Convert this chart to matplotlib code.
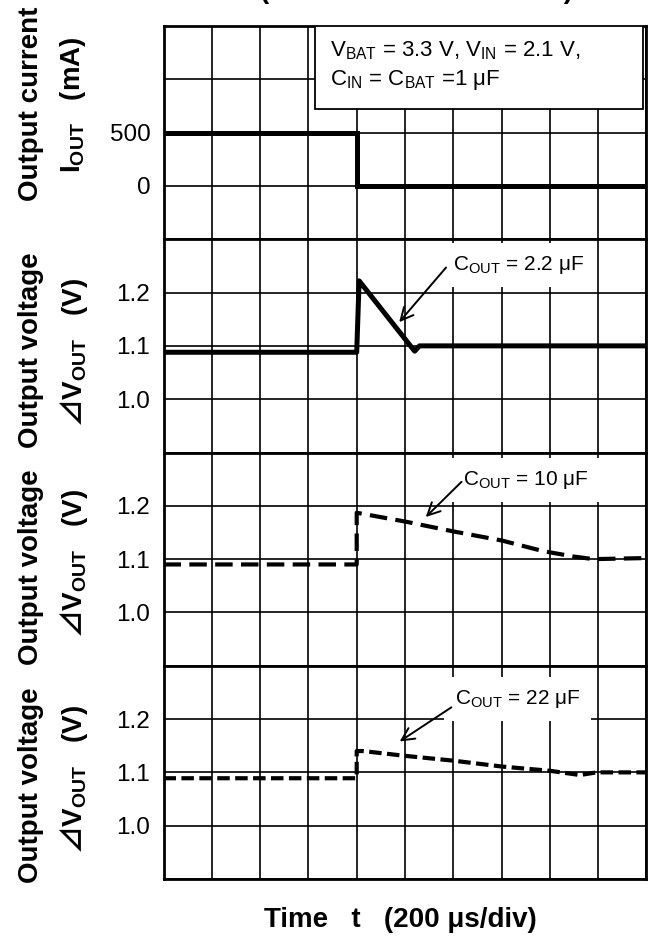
"""Load transient response: output current step and output voltage for three C_OUT values."""

import matplotlib

matplotlib.use("Agg")
import matplotlib.pyplot as plt
from matplotlib.patches import Rectangle

plt.rcParams["font.family"] = ["Liberation Sans", "DejaVu Sans"]
plt.rcParams["mathtext.fontset"] = "custom"
plt.rcParams["mathtext.rm"] = "Liberation Sans"
plt.rcParams["mathtext.bf"] = "Liberation Sans:bold"
plt.rcParams["mathtext.it"] = "Liberation Sans:italic"
plt.rcParams["mathtext.sf"] = "Noto Sans CJK JP:bold"  # only used for the ⊿ sign

# %% Data (time in divisions, 200 us/div)
iout_t = [0, 4.0, 4.0, 10]
iout_ma = [500, 500, 0, 0]

v22n_t = [0, 4.0, 4.05, 5.2, 5.3, 10]
v22n_v = [1.088, 1.088, 1.222, 1.09, 1.10, 1.10]

v10u_t = [0, 4.0, 4.0, 5.03, 6.0, 7.0, 7.86, 8.48, 8.9, 10]
v10u_v = [1.09, 1.09, 1.187, 1.170, 1.152, 1.135, 1.115, 1.105, 1.10, 1.102]

v22u_t = [0, 4.0, 4.0, 4.13, 5.0, 6.0, 7.0, 8.0, 8.62, 8.97, 10]
v22u_v = [1.089, 1.089, 1.14, 1.14, 1.131, 1.122, 1.111, 1.103, 1.095, 1.10, 1.10]

iout_ticks = [-500, 0, 500, 1000, 1500]
iout_ticklabels = ["", "0", "500", "", ""]
v_ticks = [0.9, 1.0, 1.1, 1.2, 1.3]
v_ticklabels = ["", "1.0", "1.1", "1.2", ""]

cout_labels = ["2.2 μF", "10 μF", "22 μF"]

W, H = 650, 936


def fx(px):
    return px / W


def fy(py):
    return 1 - py / H


fig = plt.figure(figsize=(6.5, 9.36), dpi=100)
gs = fig.add_gridspec(
    4, 1, left=fx(163.5), right=fx(646.5), top=fy(26), bottom=fy(879), hspace=0
)
axes = [fig.add_subplot(gs[i]) for i in range(4)]

for ax in axes:
    ax.set_xlim(0, 10)
    ax.set_xticks(range(11))
    ax.set_xticklabels([])
    ax.grid(True, color="black", linewidth=1.2)
    ax.set_axisbelow(True)
    ax.tick_params(length=0, labelsize=17.5, pad=9.5)
    for sp in ax.spines.values():
        sp.set_linewidth(2)

# %% Output current
ax = axes[0]
ax.set_ylim(-500, 1500)
ax.set_yticks(iout_ticks)
ax.set_yticklabels(iout_ticklabels)
ax.plot(iout_t, iout_ma, color="black", linewidth=3.6, solid_joinstyle="miter", zorder=3)

ax.add_patch(
    Rectangle(
        (0.314, 0.61), 0.679, 0.39, transform=ax.transAxes,
        facecolor="white", edgecolor="black", linewidth=1.3, zorder=4,
    )
)
ax.text(0.345, 0.856, r"V$_{\mathrm{BAT}}$ = 3.3 V, V$_{\mathrm{IN}}$ = 2.1 V,",
        transform=ax.transAxes, fontsize=16, va="baseline", zorder=5)
ax.text(0.345, 0.723, r"C$_{\mathrm{IN}}$ = C$_{\mathrm{BAT}}$ =1 μF",
        transform=ax.transAxes, fontsize=16, va="baseline", zorder=5)

# %% Output voltage panels
volt_series = [(v22n_t, v22n_v), (v10u_t, v10u_v), (v22u_t, v22u_v)]
styles = [
    dict(linestyle="-", linewidth=3.6),
    dict(linestyle=(0, (4.2, 2.0)), linewidth=3.0),
    dict(linestyle=(0, (3.0, 1.3)), linewidth=3.0),
]
# text position, arrow tail, arrow head (data coords)
notes = [
    ((5.99, 1.2515), (5.85, 1.247), (4.88, 1.1445)),
    ((6.2, 1.249), (6.17, 1.245), (5.43, 1.179)),
    ((6.03, 1.2375), (5.96, 1.222), (4.89, 1.158)),
]

for ax, (t, v), style, label, (txt, tail, head) in zip(
    axes[1:], volt_series, styles, cout_labels, notes
):
    ax.set_ylim(0.9, 1.3)
    ax.set_yticks(v_ticks)
    ax.set_yticklabels(v_ticklabels)
    ax.plot(t, v, color="black", zorder=3, **style)
    ax.text(txt[0], txt[1], r"C$_{\mathrm{OUT}}$ = " + label, fontsize=15,
            ha="left", va="center", zorder=4,
            bbox=dict(facecolor="white", edgecolor="none", pad=8))
    ax.annotate("", xy=head, xytext=tail, zorder=5,
                arrowprops=dict(arrowstyle="->,head_length=0.9,head_width=0.45",
                                color="black", lw=1.4, shrinkA=0, shrinkB=0))

# %% Axis labels
ylabels = [
    ("Output current", r"I$_{\mathbf{OUT}}$   (mA)", 104, 105),
    ("Output voltage", r"$\mathsf{⊿}$V$_{\mathbf{OUT}}$   (V)", 350, 352),
    ("Output voltage", r"$\mathsf{⊿}$V$_{\mathbf{OUT}}$   (V)", 567, 563),
    ("Output voltage", r"$\mathsf{⊿}$V$_{\mathbf{OUT}}$   (V)", 785, 779),
]
for line1, line2, y1, y2 in ylabels:
    fig.text(fx(31), fy(y1), line1, rotation=90, fontsize=20, fontweight="bold",
             ha="center", va="center")
    fig.text(fx(73), fy(y2), line2, rotation=90, fontsize=20, fontweight="bold",
             ha="center", va="center")

fig.text(fx(400), fy(926.7), "Time   t   (200 μs/div)", fontsize=20,
         fontweight="bold", ha="center", va="baseline")

# title of the source figure, cut off at the top edge as in the original
fig.text(fx(417), fy(-2), "(" + " " * 38 + ")", fontsize=20, fontweight="bold",
         ha="center", va="baseline")

fig.savefig("out.png", dpi=100)
